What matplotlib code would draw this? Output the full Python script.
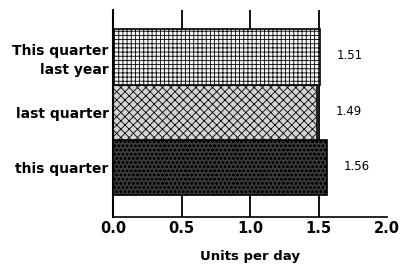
import matplotlib.pyplot as plt

categories = ["this quarter", "last quarter", "This quarter\nlast year"]
values = [1.56, 1.49, 1.51]
value_labels = ["1.56", "1.49", "1.51"]
label_x = [1.78, 1.72, 1.73]
colors = ["#3a3a3a", "#d4d4d4", "#f4f4f4"]
hatches = ["oooo", "xxxx", "++++"]

plt.rcParams["font.family"] = ["DejaVu Sans"]
plt.rcParams["hatch.linewidth"] = 0.6
plt.rcParams["hatch.color"] = "#222222"

fig = plt.figure(figsize=(4, 2.71), dpi=100)
ax = fig.add_axes([0.2825, 0.199, 0.685, 0.764])

for i, (v, c, h) in enumerate(zip(values, colors, hatches)):
    ax.barh(i, v, height=1.0, color=c, hatch=h, edgecolor="black", linewidth=1.2, zorder=2)
    ax.text(label_x[i], i + 0.02, value_labels[i], ha="center", va="center", fontsize=8.5)

ax.set_xlim(0, 2.0)
ax.set_ylim(-0.9, 2.85)
ax.set_xticks([0, 0.5, 1.0, 1.5, 2.0])
ax.set_xticklabels(["0.0", "0.5", "1.0", "1.5", "2.0"], fontsize=10.5, fontweight="bold")
ax.set_yticks(range(len(categories)))
ax.set_yticklabels(categories, fontsize=10, fontweight="bold", ha="right", linespacing=1.4)
ax.tick_params(length=0, pad=3)

for x in [0.5, 1.0, 1.5]:
    ax.axvline(x, color="black", linewidth=1.3, zorder=1)

for s in ["top", "right"]:
    ax.spines[s].set_visible(False)
ax.spines["left"].set_linewidth(1.5)
ax.spines["bottom"].set_linewidth(1.2)

ax.set_xlabel("Units per day", fontsize=9.5, fontweight="bold", labelpad=10)

fig.savefig("out.png", dpi=100)
